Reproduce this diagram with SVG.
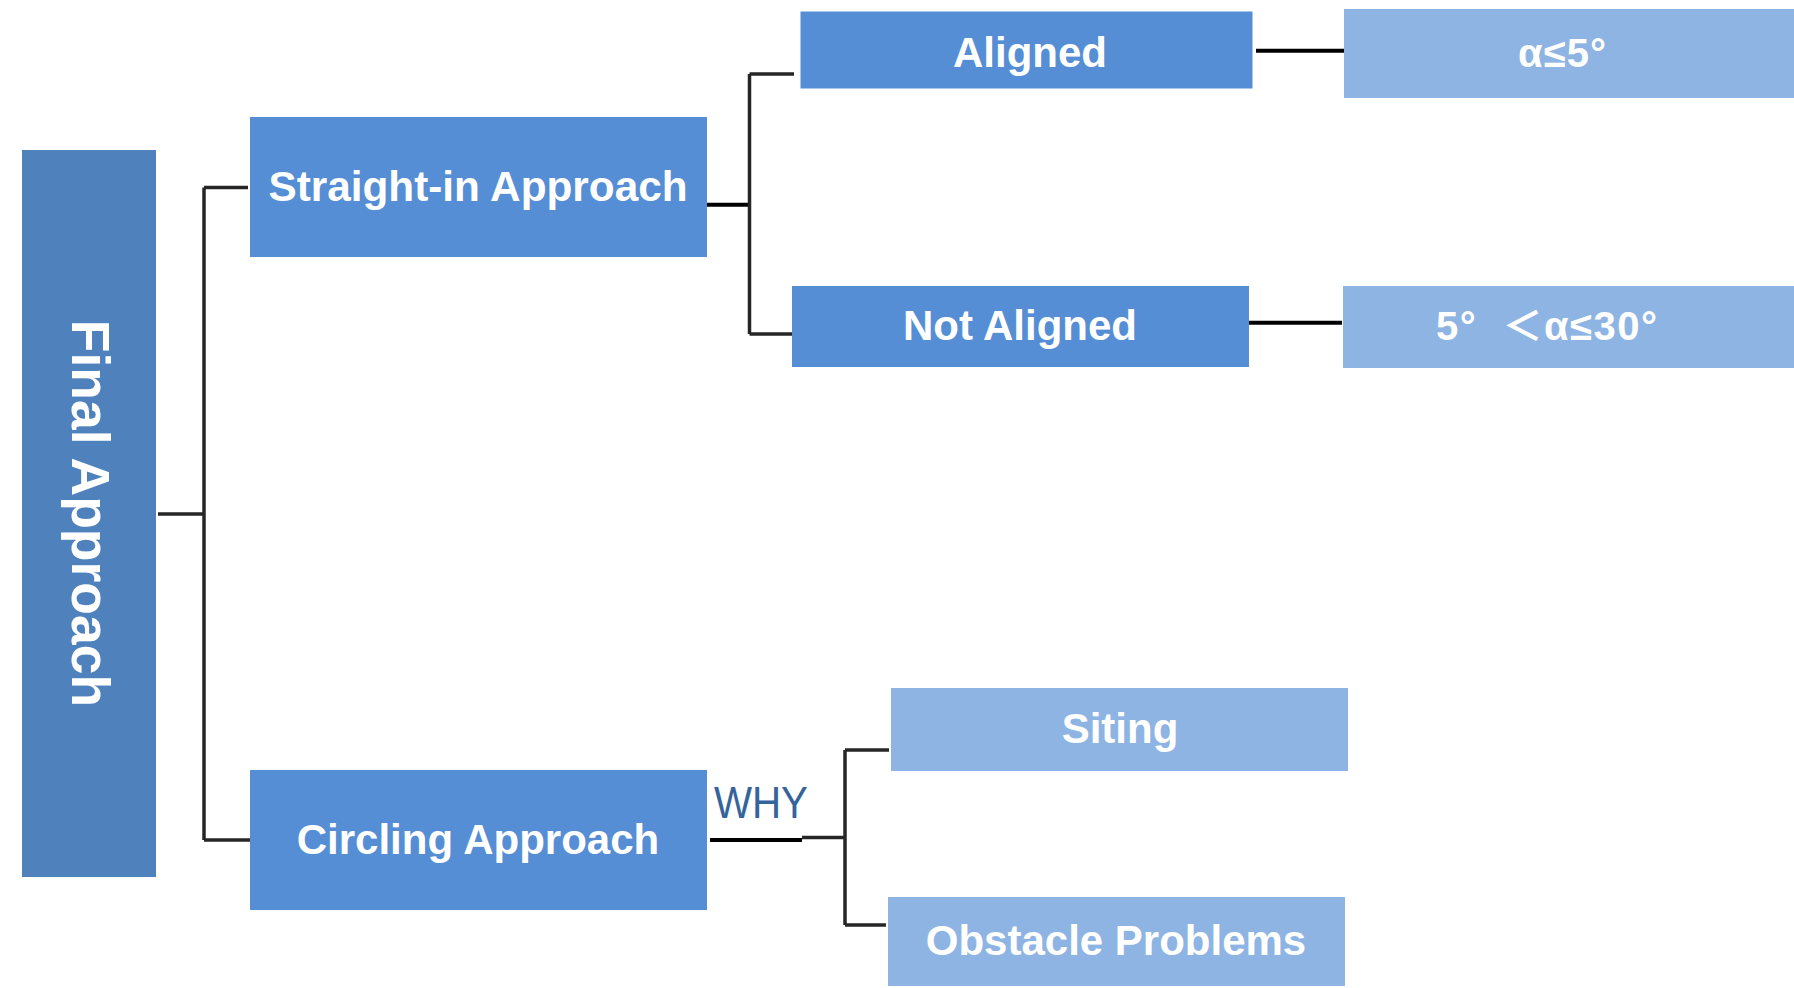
<svg xmlns="http://www.w3.org/2000/svg" width="1794" height="988" viewBox="0 0 1794 988">
  <style>
    .root { fill: #4F81BD; }
    .mid { fill: #558ED5; }
    .leaf { fill: #8EB4E3; }
    .lbl { font-family: "Liberation Sans", Arial, "Noto Sans CJK SC", sans-serif; font-weight: bold; fill: #FFFFFF; text-anchor: middle; }
    .lbl-start { text-anchor: start; }
    .link { fill: none; stroke: #262626; stroke-width: 3.5; }
    .link-dark { fill: none; stroke: #000000; stroke-width: 4; }
    .why { font-family: "Liberation Sans", Arial, sans-serif; fill: #35649C; font-size: 44px; }
  </style>
  <rect width="1794" height="988" fill="#FFFFFF"/>

  <!-- connectors -->
  <g id="connectors">
    <!-- Final Approach branch -->
    <path class="link" d="M158 514 H204 M204 187.5 V840 M204 187.5 H248 M204 840 H250"/>
    <!-- Straight-in branch -->
    <path class="link-dark" d="M703 204.7 H750"/>
    <path class="link" d="M749.5 74 V334 M749.5 74 H794 M749.5 334 H795"/>
    <!-- leaf links -->
    <path class="link-dark" d="M1256 50.7 H1345"/>
    <path class="link-dark" d="M1248 322.7 H1342"/>
    <!-- Circling branch -->
    <path class="link-dark" d="M710 840 H802"/>
    <path class="link" d="M802 837.5 H845" stroke="#333333" stroke-width="4"/>
    <path class="link" d="M845 750 V925 M845 750 H889 M845 925 H886"/>
  </g>

  <!-- root -->
  <g id="final-approach">
    <rect class="root" x="22" y="150" width="134" height="727"/>
    <text class="lbl" font-size="53.5" transform="translate(72,513.5) rotate(90)">Final Approach</text>
  </g>

  <!-- level 1 -->
  <g id="straight-in">
    <rect class="mid" x="250" y="117" width="457" height="140"/>
    <text class="lbl" x="478" y="201" font-size="42.3">Straight-in Approach</text>
  </g>
  <g id="circling">
    <rect class="mid" x="250" y="770" width="457" height="140"/>
    <text class="lbl" x="478" y="854" font-size="42">Circling Approach</text>
  </g>

  <!-- level 2 -->
  <g id="aligned">
    <rect class="mid" x="800.5" y="11.5" width="452" height="77"/>
    <text class="lbl" x="1030" y="66.5" font-size="42">Aligned</text>
  </g>
  <g id="not-aligned">
    <rect class="mid" x="792" y="286" width="457" height="81"/>
    <text class="lbl" x="1020" y="340" font-size="42">Not Aligned</text>
  </g>
  <g id="siting">
    <rect class="leaf" x="891" y="688" width="457" height="83"/>
    <text class="lbl" x="1120" y="743" font-size="42">Siting</text>
  </g>
  <g id="obstacle-problems">
    <rect class="leaf" x="888" y="897" width="457" height="89"/>
    <text class="lbl" x="1116" y="955" font-size="42">Obstacle Problems</text>
  </g>

  <!-- level 3 -->
  <g id="alpha-le-5">
    <rect class="leaf" x="1344" y="9" width="460" height="89"/>
    <text class="lbl lbl-start" x="1518" y="66.5" font-size="40" textLength="88" lengthAdjust="spacing">α≤5°</text>
  </g>
  <g id="alpha-5-30">
    <rect class="leaf" x="1343" y="286" width="460" height="82"/>
    <text class="lbl lbl-start" x="1436" y="340" font-size="40" textLength="221" lengthAdjust="spacing">5°&#160;&#160;＜α≤30°</text>
  </g>

  <!-- edge label -->
  <g id="why-label">
    <text class="why" x="714" y="818" textLength="94" lengthAdjust="spacingAndGlyphs">WHY</text>
  </g>
</svg>
